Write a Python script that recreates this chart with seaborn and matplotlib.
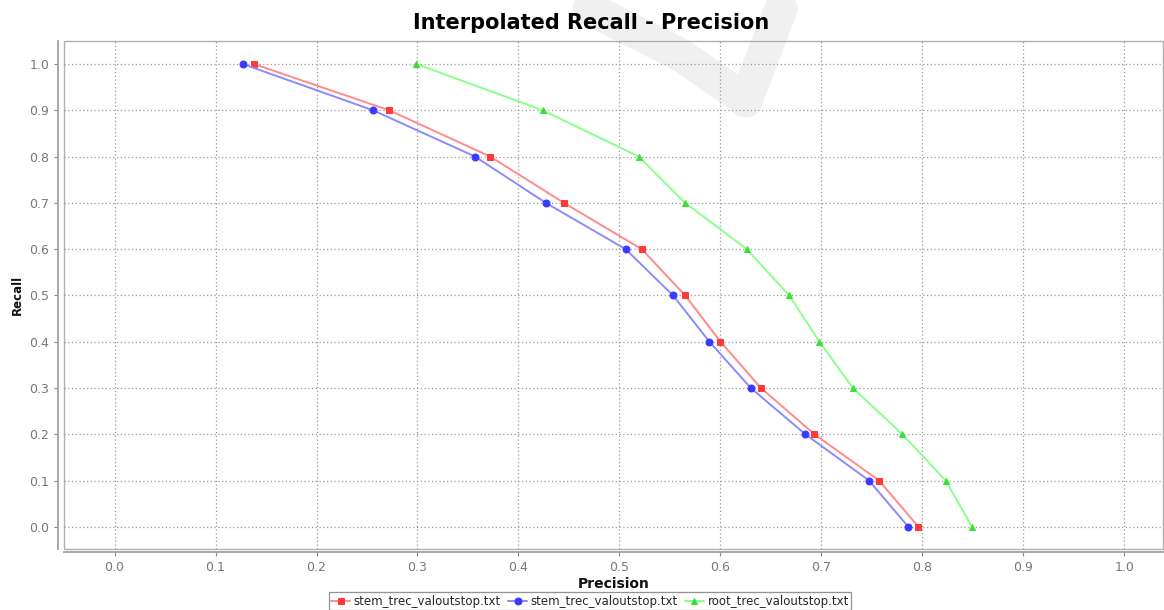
import matplotlib
matplotlib.use("Agg")
import matplotlib.pyplot as plt
import seaborn as sns
import pandas as pd
from matplotlib.patches import Rectangle

# Recall levels (shared by all three runs)
recall = [1.0, 0.9, 0.8, 0.7, 0.6, 0.5, 0.4, 0.3, 0.2, 0.1, 0.0]

# Interpolated precision
prec_red = [0.138, 0.272, 0.372, 0.445, 0.522, 0.565, 0.600, 0.640, 0.693, 0.757, 0.796]
prec_blue = [0.127, 0.256, 0.357, 0.427, 0.506, 0.553, 0.589, 0.630, 0.684, 0.747, 0.786]
prec_green = [0.299, 0.424, 0.519, 0.565, 0.626, 0.668, 0.698, 0.731, 0.780, 0.823, 0.849]

labels = ["stem_trec_valoutstop.txt", "stem_trec_valoutstop.txt", "root_trec_valoutstop.txt"]
ticks = [0.0, 0.1, 0.2, 0.3, 0.4, 0.5, 0.6, 0.7, 0.8, 0.9, 1.0]

series = [
    (prec_red, "s", "#ff8a8a", "#ff3a3a", 5),
    (prec_blue, "o", "#8a8aff", "#3a3aff", 5),
    (prec_green, "^", "#8aff8a", "#3ae03a", 5),
]

sns.set_style("white")
plt.rcParams["font.family"] = ["DejaVu Sans"]

fig = plt.figure(figsize=(11.64, 6.10), dpi=100)
ax = fig.add_axes([0.055, 0.10, 0.944, 0.833])

for (prec, mk, lc, mc, ms), lab in zip(series, labels):
    df = pd.DataFrame({"Precision": prec, "Recall": recall})
    sns.lineplot(data=df, x="Precision", y="Recall", sort=False, ax=ax,
                 color=lc, lw=1.4, marker=mk, markersize=ms,
                 markerfacecolor=mc, markeredgecolor=mc, label=lab)

ax.set_xlim(-0.05, 1.038)
ax.set_ylim(-0.048, 1.05)
ax.set_xticks(ticks)
ax.set_yticks(ticks)
ax.set_xticklabels([f"{t:.1f}" for t in ticks])
ax.set_yticklabels([f"{t:.1f}" for t in ticks])
ax.tick_params(axis="both", colors="#888888", labelcolor="#777777", labelsize=9,
               length=3, width=0.8, direction="out", left=True, bottom=True)
ax.grid(True, color="#9a9a9a", linestyle=(0, (1, 2)), linewidth=0.9)

for side in ["top", "right"]:
    ax.spines[side].set_visible(False)
for side in ["left", "bottom"]:
    ax.spines[side].set_color("#a0a0a0")
    ax.spines[side].set_linewidth(1.3)
ax.spines["left"].set_position(("outward", 4))
ax.spines["bottom"].set_position(("outward", 2))
ax.add_patch(Rectangle((0, 0), 1, 1, transform=ax.transAxes, fill=False,
                       ec="#b0b0b0", lw=1.0, clip_on=False, zorder=0.5))

ax.set_xlabel("Precision", fontsize=10, fontweight="bold", labelpad=2, color="#111111")
ax.set_ylabel("Recall", fontsize=8.5, fontweight="bold", labelpad=4, color="#111111")
fig.suptitle("Interpolated Recall - Precision", x=0.508, y=0.978,
             fontsize=15, fontweight="bold", color="black")

ax.get_legend().remove()
handles, labs = ax.get_legend_handles_labels()
leg = fig.legend(handles, labs, loc="lower center", bbox_to_anchor=(0.507, -0.004),
                 ncol=3, fontsize=8.5, frameon=True, fancybox=False,
                 handlelength=1.6, handletextpad=0.3, columnspacing=0.6,
                 borderpad=0.2, borderaxespad=0.2)
leg.get_frame().set_edgecolor("#777777")
leg.get_frame().set_linewidth(0.9)

# faint watermark stroke in the background
ax.plot([0.47, 0.56, 0.62, 0.625, 0.66], [1.12, 1.02, 0.93, 0.92, 1.12],
        transform=ax.transData, color="#d0d0d0", alpha=0.3, lw=24,
        solid_capstyle="round", clip_on=False, zorder=0.2)

fig.savefig("out.png", dpi=100)
